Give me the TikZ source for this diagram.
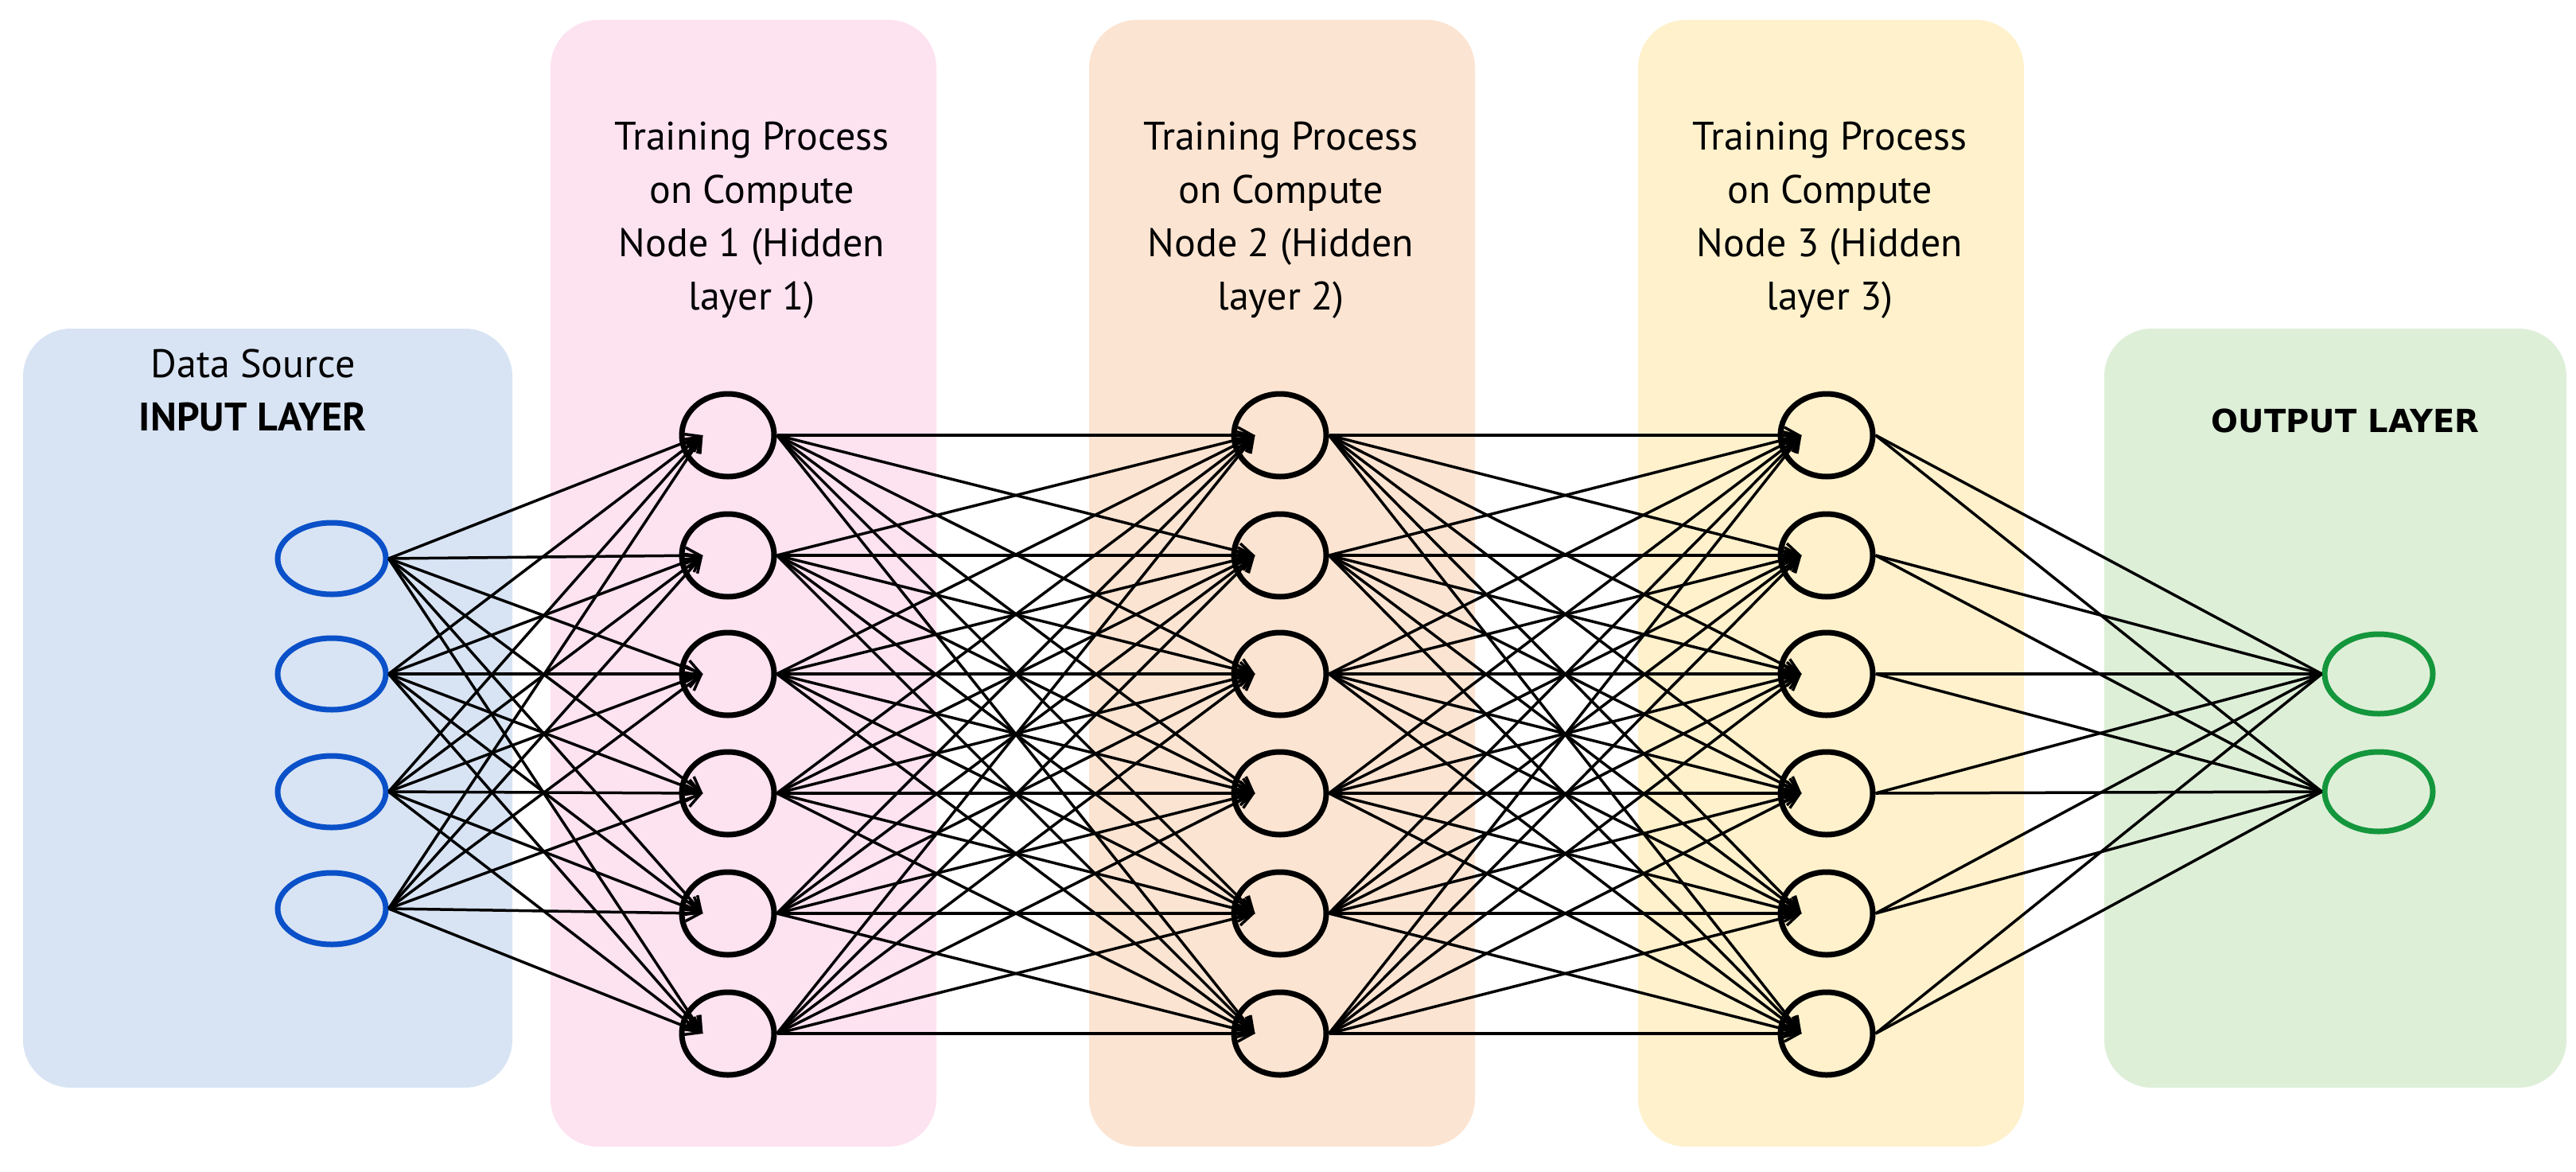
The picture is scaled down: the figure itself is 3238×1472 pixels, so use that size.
\documentclass[tikz,border=0pt]{standalone}
\usepackage{fontspec}
\setmainfont{PT Sans}
\newfontfamily\outf{DejaVu Sans}
\usetikzlibrary{arrows.meta,calc,shapes.geometric}
\definecolor{inblue}{RGB}{10,80,200}
\definecolor{outgreen}{RGB}{20,150,60}
\begin{document}
\begin{tikzpicture}[x=1pt,y=-1pt,
 panel/.style={rounded corners=60pt,draw=none},
 inn/.style={ellipse,draw=inblue,line width=7pt,minimum width=136pt,minimum height=90pt,inner sep=0pt},
 hid/.style={ellipse,draw=black,line width=7pt,minimum width=116pt,minimum height=104pt,inner sep=0pt},
 outn/.style={ellipse,draw=outgreen,line width=7pt,minimum width=136pt,minimum height=100pt,inner sep=0pt},
 ed/.style={line width=3.5pt},
 ar/.style={line width=3.5pt,-{Straight Barb[length=18pt,width=20pt,line width=3.5pt]}},
 ttl/.style={align=center,font=\fontsize{50}{67}\selectfont}]
\useasboundingbox (0,0) rectangle (3238,1472);
\fill[panel,fill={rgb,255:red,216;green,228;blue,244}] (29,413) rectangle (644,1367);
\fill[panel,fill={rgb,255:red,253;green,226;blue,240}] (692,25) rectangle (1177,1441);
\fill[panel,fill={rgb,255:red,252;green,228;blue,210}] (1369,25) rectangle (1854,1441);
\fill[panel,fill={rgb,255:red,254;green,241;blue,204}] (2059,25) rectangle (2544,1441);
\fill[panel,fill={rgb,255:red,222;green,239;blue,216}] (2645,413) rectangle (3226,1367);
\node[ttl] (tin) at (318,490) {Data Source\\\textbf{INPUT LAYER}};
\foreach \k/\x in {1/945,2/1610,3/2300}
 \node[ttl] (t\k) at (\x,277) {Training Process\\on Compute\\Node \k\ (Hidden\\layer \k)};
\node[font=\outf\bfseries\fontsize{40}{48}\selectfont] (tout) at (2948,529) {OUTPUT LAYER};
\foreach \i/\y in {1/702,2/847,3/995,4/1142} \node[inn] (i\i) at (417,\y) {};
\foreach \l/\x in {1/915,2/1609,3/2296}
 \foreach \j/\y in {1/547,2/698,3/847,4/997,5/1148,6/1299} \node[hid] (h\l\j) at (\x,\y) {};
\foreach \o/\y in {1/847,2/995} \node[outn] (o\o) at (2990,\y) {};
\foreach \i in {1,...,4} \foreach \j in {1,...,6}
 \draw[ar] (i\i.east) -- ($(h1\j.west)+(30,0)$);
\foreach \a/\b in {1/2,2/3} \foreach \i in {1,...,6} \foreach \j in {1,...,6}
 \draw[ar] (h\a\i.east) -- ($(h\b\j.west)+(30,0)$);
\foreach \i in {1,...,6} \foreach \o in {1,2}
 \draw[ed] (h3\i.east) -- (o\o.west);
\end{tikzpicture}
\end{document}
